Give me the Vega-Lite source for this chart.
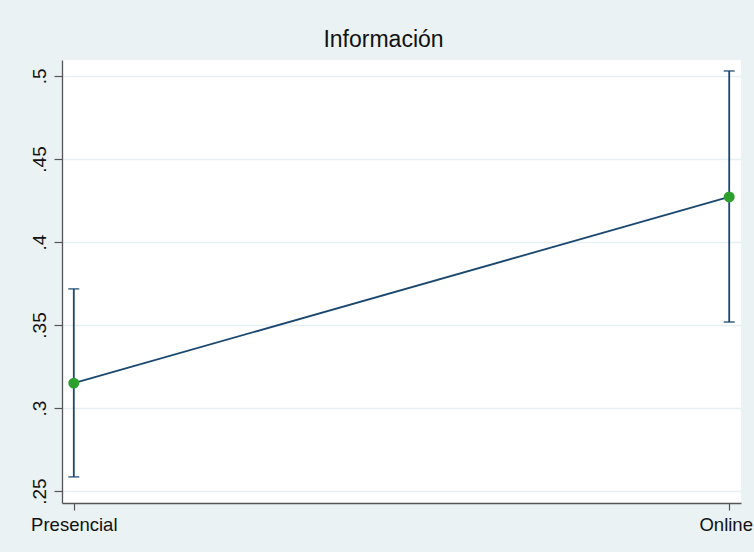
{
  "$schema": "https://vega.github.io/schema/vega-lite/v6.json",
  "width": 679,
  "height": 443,
  "autosize": {"type": "none"},
  "padding": {"left": 62, "top": 60, "right": 13, "bottom": 49},
  "background": "#EAF2F3",
  "config": {
    "view": {"fill": "white", "stroke": null},
    "font": "Liberation Sans"
  },
  "title": {
    "text": "Información",
    "fontSize": 23,
    "fontWeight": "normal",
    "color": "#111111",
    "font": "Liberation Sans",
    "offset": 8,
    "dx": -18
  },
  "data": {
    "values": [
      {"grupo": "Presencial", "margen": 0.315, "lo": 0.2585, "hi": 0.3717},
      {"grupo": "Online", "margen": 0.4271, "lo": 0.3518, "hi": 0.503}
    ]
  },
  "encoding": {
    "x": {
      "field": "grupo",
      "type": "ordinal",
      "sort": ["Presencial", "Online"],
      "scale": {"type": "point", "padding": 0.018},
      "axis": {
        "title": null,
        "labelAngle": 0,
        "labelFontSize": 18.5,
        "labelColor": "#111111",
        "labelPadding": 5,
        "labelOffset": {"condition": {"test": "datum.value === 'Online'", "value": -3.5}, "value": 0},
        "tickSize": 7,
        "tickColor": "#555555",
        "tickWidth": 1.2,
        "domainColor": "#555555",
        "domainWidth": 1.3,
        "grid": false
      }
    }
  },
  "layer": [
    {
      "mark": {"type": "rule", "color": "#1A476F", "strokeWidth": 1.8},
      "encoding": {
        "y": {
          "field": "lo",
          "type": "quantitative",
          "scale": {"domain": [0.2428, 0.5096], "nice": false, "zero": false},
          "axis": {
            "title": null,
            "values": [0.25, 0.3, 0.35, 0.4, 0.45, 0.5],
            "labelExpr": "substring(toString(datum.value), 1)",
            "labelAngle": -90,
            "labelAlign": "center",
            "labelBaseline": "bottom",
            "labelFontSize": 19,
            "labelColor": "#111111",
            "labelPadding": 5,
            "tickSize": 8,
            "tickColor": "#555555",
            "tickWidth": 1.2,
            "domainColor": "#555555",
            "domainWidth": 1.3,
            "grid": true,
            "gridColor": "#E6F0F2",
            "gridWidth": 1.3
          }
        },
        "y2": {"field": "hi"}
      }
    },
    {
      "mark": {"type": "tick", "color": "#1A476F", "size": 11, "thickness": 1.8, "orient": "horizontal"},
      "encoding": {"y": {"field": "lo", "type": "quantitative"}}
    },
    {
      "mark": {"type": "tick", "color": "#1A476F", "size": 11, "thickness": 1.8, "orient": "horizontal"},
      "encoding": {"y": {"field": "hi", "type": "quantitative"}}
    },
    {
      "mark": {"type": "line", "color": "#1A476F", "strokeWidth": 1.8},
      "encoding": {"y": {"field": "margen", "type": "quantitative"}}
    },
    {
      "mark": {"type": "point", "filled": true, "opacity": 1, "color": "#2CA02C", "size": 120},
      "encoding": {"y": {"field": "margen", "type": "quantitative"}}
    }
  ]
}
